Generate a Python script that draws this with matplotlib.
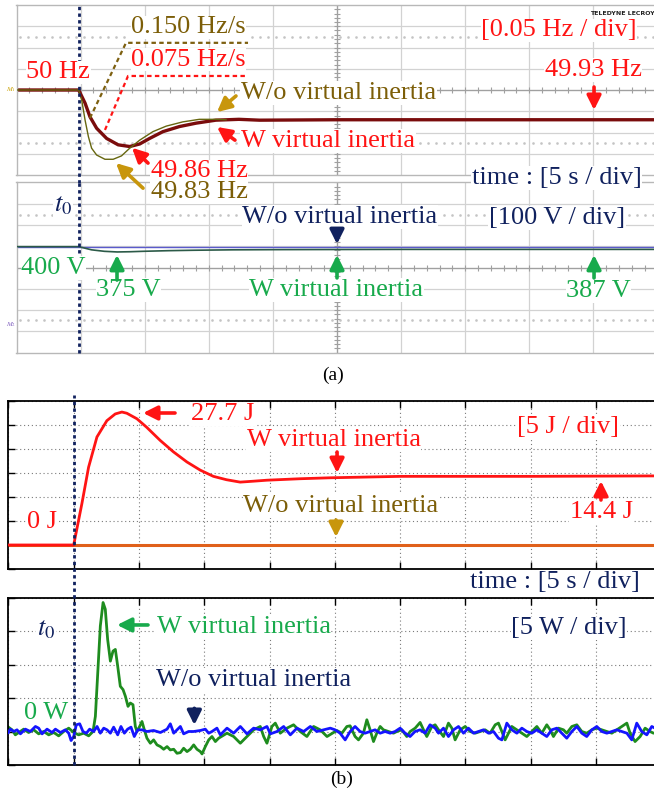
import numpy as np
import matplotlib.pyplot as plt

plt.rcParams['font.family'] = ['Liberation Serif', 'DejaVu Serif']
plt.rcParams['mathtext.fontset'] = 'stix'

RED = '#ff1414'
OLIVE = '#7c5e08'
GOLD = '#c8960c'
NAVY = '#10215e'
GREEN = '#18aa4c'

# ---- (a) grid frequency [Hz] vs time [s]
t_f_wi = [-4.85, 0.0, 0.5, 0.88, 1.4, 2.18, 3.08, 3.98, 4.76, 5.53, 6.57, 7.86,
          9.16, 10.7, 12.5, 14.1, 20.0, 30.0, 45.15]
f_wi = [50.0, 50.0, 49.969, 49.937, 49.91, 49.886, 49.871, 49.867, 49.873, 49.886,
        49.902, 49.914, 49.922, 49.929, 49.931, 49.929, 49.93, 49.93, 49.93]
t_f_wo = [-4.85, 0.0, 0.24, 0.5, 0.76, 1.01, 1.4, 2.05, 2.69, 3.34, 3.98, 4.76,
          5.79, 6.83, 8.12, 9.41, 10.7, 11.5]
f_wo = [50.0, 50.0, 49.976, 49.929, 49.890, 49.863, 49.847, 49.837, 49.837, 49.845,
        49.863, 49.882, 49.902, 49.915, 49.925, 49.931, 49.931, 49.93]
# rate-of-change tangents drawn on the scope shot
t_rocof_wo = [0.88, 3.69, 13.21]
f_rocof_wo = [49.934, 50.111, 50.111]
t_rocof_wi = [2.05, 3.85, 13.21]
f_rocof_wi = [49.906, 50.033, 50.033]

# ---- (a) dc-link voltage [V]
t_v_wo = [-4.85, 45.15]
v_wo = [400, 400]
t_v_wi = [-4.85, 0.0, 0.4, 1.0, 2.0, 3.0, 4.0, 5.0, 7.0, 9.0, 12.0, 16.0, 25.0, 45.15]
v_wi = [400, 400, 394, 385, 378, 375, 376, 378, 381, 383, 385, 386, 387, 387]

# ---- (b) stored energy [J]
t_e_wo = [-5.0, 45.0]
e_wo = [0.0, 0.0]
t_e_wi = [-5.0, 0.0, 0.63, 1.14, 1.78, 2.54, 3.18, 3.69, 4.07, 4.84, 5.6, 6.62, 7.64,
          8.67, 9.69, 10.7, 11.7, 12.75, 13.8, 14.8, 17.3, 19.6, 25.0, 35.0, 45.0]
e_wi = [0.0, 0.0, 8.65, 16.2, 22.5, 25.9, 27.3, 27.7, 27.45, 26.3, 24.5, 21.8, 19.4,
        17.3, 15.6, 14.3, 13.6, 13.1, 13.3, 13.5, 13.8, 14.0, 14.3, 14.3, 14.4]

# ---- (b) power [W]
t_p_wi = [-5.0, -4.72, -4.47, -4.21, -3.83, -3.45, -3.06, -2.68, -2.30, -1.91, -1.53,
          -1.15, -0.77, -0.38, 0.0, 0.38, 0.77, 1.15, 1.48, 1.66, 1.84, 2.04, 2.25,
          2.42, 2.60, 2.81, 3.01, 3.19, 3.37, 3.57, 3.78, 3.96, 4.16, 4.34, 4.54, 4.72,
          4.85, 5.05, 5.23, 5.41, 5.61, 5.87, 6.12, 6.38, 6.64, 6.89, 7.15, 7.40, 7.66,
          7.91, 8.17, 8.42, 8.68, 8.93, 9.19, 9.44, 9.70, 9.83, 10.08, 10.34, 10.59,
          10.85, 11.10,
          11.74, 12.25, 12.76, 13.27, 13.78, 14.29, 14.55, 14.80, 15.18, 15.44, 15.82,
          16.33, 16.84, 17.35, 17.86, 18.37, 18.88, 19.40,
          20.15, 20.54, 20.92, 21.17, 21.55, 21.81, 22.19, 22.45, 22.70, 22.96, 23.21,
          23.47, 23.72, 24.10, 24.49, 24.75, 25.13, 25.51, 25.77, 26.15, 26.53, 26.79,
          27.04, 27.43, 27.68,
          27.94, 28.32, 28.70, 28.96, 29.21, 29.60, 29.98, 30.36, 30.75, 31.13, 31.51,
          31.89, 32.28, 32.53, 32.79, 33.04, 33.30, 33.55, 33.94, 34.32, 34.70, 35.08,
          35.47, 35.85, 36.23, 36.49, 36.74, 37.13, 37.51, 37.76, 38.15, 38.53, 38.91,
          39.29, 39.68, 40.06, 40.44, 40.83, 41.21, 41.59, 41.97, 42.36, 42.61, 42.99,
          43.38, 43.76, 44.14, 44.40, 45.0]
p_wi = [0.65, 0.25, -0.5, -0.15, 0.35, -0.15, 0.25, -0.35, 0.0, -0.5, -0.15,
        -0.65, 0.0, 0.5, -0.15, -0.5, -0.25, -0.65, 0.0, 2.25, 8.75, 15.75, 19.25,
        18.25, 13.75, 10.5, 12.0, 12.25, 9.75, 6.75, 6.25, 5.25, 3.75, 4.25, 4.0, 0.75,
        0.0, 0.75, 1.5, 0.25, -1.0, -1.75, -1.25, -2.0, -2.25, -2.65, -2.25, -2.75, -2.65,
        -3.25, -3.15, -2.5, -3.0, -2.65, -2.0, -2.65, -3.0, -3.35, -2.25, -1.25, -0.75,
        -1.5, -1.0,
        -0.25, -0.75, -1.75, -0.75, 0.25, 0.75, -0.75, -1.75, 0.75, 1.25, -0.25,
        0.5, 1.0, 0.0, -0.75, 0.75, 0.25, -0.75,
        0.15, -0.25, 0.75, 0.85, -0.75, -1.25, -0.25, 1.75, 0.25, -1.5, -0.25,
        0.75, 0.25, 0.0, -0.25, 0.0, 0.25, -0.75, 0.0, 0.5, 1.35, 0.25,
        -0.75, 0.75, 1.0,
        0.25, -0.75, 1.25, 0.5, -1.25, 0.25, 0.75, 0.0, -0.25, 0.0, 0.25,
        -0.25, 1.0, 1.25, 0.0, -1.25, -0.25, 0.75, 0.25, -0.25, -0.75, 0.0,
        0.75, -0.25, 1.0, 0.25, -0.75, 0.5, 0.25, -0.25, 0.75, 1.0, 0.0,
        -0.25, 0.25, 0.5, 0.25, 0.0, -0.25, 0.25, 0.75, 1.25, -0.25, -1.5,
        -0.75, 0.5, 0.0, -0.25, 0.0]
t_p_wo = [-5.0, -4.85, -4.59, -4.34, -4.08, -3.70, -3.32, -2.93, -2.68, -2.42, -2.04,
          -1.66, -1.40, -1.02, -0.64, -0.38, -0.20, 0.0, 0.20, 0.46, 0.71, 0.97, 1.22,
          1.53, 1.79, 2.04, 2.30, 2.55, 2.81, 3.06, 3.37, 3.62, 3.88, 4.13, 4.39, 4.64,
          4.90, 5.23, 5.61, 6.12, 6.64, 7.15, 7.40, 7.66, 7.91, 8.17, 8.42, 8.80, 9.19,
          9.70, 10.08, 10.34, 10.59, 10.97,
          11.23, 11.74, 12.25, 12.76, 13.27, 13.78, 14.29, 14.80, 15.06, 15.57, 16.08,
          16.59, 17.10, 17.61, 18.12, 18.63, 19.14, 19.65,
          20.02, 20.40, 20.79, 21.17, 21.55, 21.93, 22.32, 22.70, 23.08, 23.47, 23.85,
          24.23, 24.61, 25.00, 25.38, 25.76, 26.14, 26.53, 26.91, 27.29, 27.68,
          27.94, 28.32, 28.70, 29.09, 29.47, 29.85, 30.23, 30.62, 31.00, 31.38, 31.77,
          32.15, 32.53, 32.79, 33.17, 33.55, 33.94, 34.32, 34.70, 35.08, 35.47, 35.85,
          36.23, 36.61, 37.00, 37.38, 37.76, 38.15, 38.53, 38.91, 39.29, 39.68, 40.06,
          40.44, 40.83, 41.21, 41.59, 41.97, 42.36, 42.74, 43.12, 43.50, 43.89, 44.27,
          45.0]
p_wo = [-0.15, 0.35, 0.0, 0.25, -0.35, 0.35, 0.0, 0.75, 0.5, -0.35, 0.35,
        -0.15, 0.35, -0.15, 0.25, -0.25, -1.35, -0.75, 1.0, 1.15, 0.0, -0.25, 0.35,
        0.0, 0.75, -0.25, 0.5, 0.25, -0.25, 0.65, -0.5, 0.75, -0.25, 0.35, 0.65, -0.75,
        0.25, 0.25, 0.0, 0.15, -0.15, 0.35, 1.15, -0.25, 0.25, 0.75, -0.35, 0.0, 0.0,
        0.15, 0.35, -0.25, 0.0, 0.5,
        -0.5, 0.5, -0.25, 0.75, -0.35, 0.5, 0.25, 0.75, -0.35, 0.0, 0.75,
        -0.5, 0.5, 0.0, 0.75, 0.0, 0.25, 0.5,
        0.25, -0.25, -1.25, 0.0, 0.75, 0.0, -0.25, 0.0, 0.25, -0.25, 0.0,
        -0.25, 0.0, 0.5, -0.25, -0.75, 0.0, 0.25, -0.25, 1.0, 0.5,
        -0.25, 0.5, -0.75, 0.25, 0.75, -0.25, 0.5, -0.25, 0.0, 0.25, -0.25,
        0.0, -1.0, -1.25, 1.25, 0.25, -0.25, 0.5, 0.0, -0.25, 0.25, -0.25,
        -0.75, 0.25, 0.5, -0.25, -1.0, 0.0, 0.75, -0.25, -0.75, 0.25, 0.75,
        0.0, -0.25, 0.0, 0.25, 0.0, -0.25, -1.25, 1.25, 0.0, -0.5, 0.75,
        0.0]

W, H = 654, 793
fig = plt.figure(figsize=(W / 100, H / 100), dpi=100)


def place(x0, x1, y0, y1):
    # pixel box (top-left origin) -> figure fraction
    return fig.add_axes([x0 / W, 1 - y1 / H, (x1 - x0) / W, (y1 - y0) / H])


def scope_grid(ax):
    ax.set_xticks([])
    ax.set_yticks([])
    for s in ax.spines.values():
        s.set_color('#b8b8b8')
        s.set_linewidth(1.0)
    kw = dict(transform=ax.transAxes, color='#d2d2d2', lw=0.9, zorder=0)
    for k in range(1, 10):
        ax.plot([k / 10, k / 10], [0, 1], **kw)
    for k in range(1, 8):
        ax.plot([0, 1], [k / 8, k / 8], **kw)
    ck = dict(transform=ax.transAxes, color='#a0a0a0', zorder=0.5)
    ax.plot([0, 1], [0.5, 0.5], lw=0.9, **ck)
    ax.plot([0.5, 0.5], [0, 1], lw=0.9, **ck)
    tx = np.arange(0, 1.001, 0.02)
    ax.plot(tx, np.full_like(tx, 0.5), ls='none', marker='|', ms=4, mew=0.8, **ck)
    ty = np.arange(0, 1.001, 0.025)
    ax.plot(np.full_like(ty, 0.5), ty, ls='none', marker='_', ms=4, mew=0.8, **ck)
    dx = np.arange(0.005, 1, 0.0125)
    for yy in (0.19, 0.81):
        ax.plot(dx, np.full_like(dx, yy), ls='none', marker='s', ms=0.8,
                color='#c4c4c4', transform=ax.transAxes, zorder=0.5)


def matlab_axes(ax, ylo, yhi):
    ax.set_xlim(-5, 45)
    ax.set_ylim(ylo, yhi)
    ax.set_xticks(np.arange(-5, 46, 5))
    ax.set_yticks(np.arange(ylo, yhi + 1, 5))
    ax.grid(True, color='#7a7a7a', ls=(0, (1, 2.5)), lw=0.8)
    ax.tick_params(direction='in', length=5, width=1, top=True, right=True,
                   labelbottom=False, labelleft=False)
    for s in ax.spines.values():
        s.set_linewidth(1.3)


def label(ax, x, y, s, c, size=19):
    ax.text(x, y, s, color=c, fontsize=size, ha='center', va='center', zorder=5,
            bbox=dict(facecolor='white', edgecolor='none', pad=0.4))


def arrow(ax, tail, head, c):
    ax.annotate('', xy=head, xytext=tail, zorder=6, annotation_clip=False,
                arrowprops=dict(arrowstyle='-|>', color=c, lw=2.6, mutation_scale=21,
                                shrinkA=0, shrinkB=0))


t0_style = dict(color=NAVY, ls=(0, (1.2, 1.2)), lw=2, clip_on=False, zorder=4)

# ---------------- (a) upper: frequency
ax_f = place(16.5, 657.5, 5, 175)
ax_f.set_zorder(2)
scope_grid(ax_f)
ax_f.set_xlim(-4.85, 45.15)
ax_f.set_ylim(49.8, 50.2)
ax_f.plot(t_f_wi, f_wi, color='#7a0c0c', lw=2.4, zorder=2)
ax_f.plot(t_f_wo, f_wo, color='#66660f', lw=1.0, zorder=3)
ax_f.plot(t_rocof_wo, f_rocof_wo, color='#7d6010', lw=1.6, ls=(0, (2, 1.5)), zorder=3)
ax_f.plot(t_rocof_wi, f_rocof_wi, color=RED, lw=1.6, ls=(0, (2, 1.5)), zorder=3)
ax_f.axvline(0, ymin=-0.045, ymax=1.012, **t0_style)

label(ax_f, 8.57, 50.148, '0.150 Hz/s', OLIVE)
label(ax_f, 8.57, 50.071, '0.075 Hz/s', RED)
label(ax_f, -1.61, 50.042, '50 Hz', RED)
label(ax_f, 20.27, 49.993, 'W/o virtual inertia', OLIVE)
label(ax_f, 19.45, 49.88, 'W virtual inertia', RED)
label(ax_f, 9.39, 49.809, '49.86 Hz', RED)
label(ax_f, 9.39, 49.76, '49.83 Hz', OLIVE)
label(ax_f, 37.47, 50.141, '[0.05 Hz / div]', RED)
label(ax_f, 40.12, 50.047, '49.93 Hz', RED)
label(ax_f, 37.27, 49.793, 'time : [5 s / div]', NAVY)
arrow(ax_f, (12.27, 49.986), (10.79, 49.948), GOLD)
arrow(ax_f, (12.19, 49.882), (10.79, 49.913), RED)
arrow(ax_f, (5.41, 49.828), (4.16, 49.864), RED)
arrow(ax_f, (5.02, 49.769), (2.91, 49.828), GOLD)
arrow(ax_f, (40.20, 50.007), (40.20, 49.953), RED)
ax_f.text(-5.3, 50.0, r'$M_1$', color='#c8a000', fontsize=5,
          ha='center', va='center')
ax_f.text(44.9, 50.181, 'TELEDYNE LECROY', fontsize=4.5, family='DejaVu Sans',
          weight='bold', ha='right', va='center', color='#222222')

# ---------------- (a) lower: dc voltage
ax_v = place(16.5, 657.5, 182.3, 352.7)
ax_v.set_zorder(1)
scope_grid(ax_v)
ax_v.set_xlim(-4.85, 45.15)
ax_v.set_ylim(-98, 702)
ax_v.plot(t_v_wo, v_wo, color='#5a5acc', lw=1.0, zorder=2)
ax_v.plot(t_v_wi, v_wi, color='#2c5a48', lw=1.2, zorder=3)
ax_v.axvline(0, ymin=0, ymax=1, **t0_style)

label(ax_v, -1.22, 590.7, r'$t_0$', NAVY)
label(ax_v, 20.38, 539, 'W/o virtual inertia', NAVY)
label(ax_v, 37.31, 534.4, '[100 V / div]', NAVY)
label(ax_v, -1.96, 299.6, '400 V', GREEN)
label(ax_v, 3.89, 196.3, '375 V', GREEN)
label(ax_v, 20.11, 196.3, 'W virtual inertia', GREEN)
label(ax_v, 40.55, 191.7, '387 V', GREEN)
arrow(ax_v, (20.15, 478), (20.15, 412), NAVY)
arrow(ax_v, (2.99, 243), (2.99, 361), GREEN)
arrow(ax_v, (20.15, 253), (20.15, 361), GREEN)
arrow(ax_v, (40.20, 253), (40.20, 361), GREEN)
ax_v.text(-5.3, 32, r'$M_2$', color='#8060c0', fontsize=5,
          ha='center', va='center')

fig.text(333 / W, 1 - 375 / H, '(a)', fontsize=14, ha='center', va='center')

# ---------------- (b) upper: energy
ax_e = place(8.4, 661.3, 401, 569)
ax_e.set_zorder(2)
matlab_axes(ax_e, -5, 30)
ax_e.plot(t_e_wo, e_wo, color='#e0601a', lw=2.2, zorder=2)
ax_e.plot(t_e_wi, e_wi, color=RED, lw=2.0, zorder=3)
ax_e.axvline(0, ymin=-0.17, ymax=1.035, **t0_style)

label(ax_e, 11.43, 27.29, '27.7 J', RED)
label(ax_e, 19.90, 21.88, 'W virtual inertia', RED)
label(ax_e, 37.89, 24.58, '[5 J / div]', RED)
label(ax_e, 40.42, 6.875, '14.4 J', RED)
label(ax_e, -2.39, 4.79, '0 J', RED)
label(ax_e, 20.47, 8.125, 'W/o virtual inertia', OLIVE)
label(ax_e, 36.86, -7.71, 'time : [5 s / div]', NAVY)
arrow(ax_e, (7.76, 27.5), (5.31, 27.5), RED)
arrow(ax_e, (20.17, 19.375), (20.17, 15.0), RED)
arrow(ax_e, (40.38, 9.375), (40.38, 13.33), RED)
arrow(ax_e, (20.09, 5.21), (20.09, 1.67), GOLD)

# ---------------- (b) lower: power
ax_p = place(8.4, 661.3, 597.5, 765)
ax_p.set_zorder(1)
matlab_axes(ax_p, -5, 20)
ax_p.plot(t_p_wi, p_wi, color='#1e8c1e', lw=2.0, zorder=2)
ax_p.plot(t_p_wo, p_wo, color='#1414ff', lw=2.0, zorder=3)
ax_p.axvline(0, ymin=0, ymax=1, **t0_style)

label(ax_p, -2.12, 15.15, r'$t_0$', NAVY)
label(ax_p, 13.04, 15.64, 'W virtual inertia', GREEN)
label(ax_p, 37.93, 15.40, '[5 W / div]', NAVY)
label(ax_p, 13.81, 7.69, 'W/o virtual inertia', NAVY)
label(ax_p, -2.12, 2.81, '0 W', GREEN)
arrow(ax_p, (5.69, 15.9), (3.32, 15.9), GREEN)
arrow(ax_p, (9.24, 3.46), (9.24, 0.97), NAVY)

fig.text(342 / W, 1 - 779 / H, '(b)', fontsize=14, ha='center', va='center')

fig.savefig('out.png', dpi=100)
